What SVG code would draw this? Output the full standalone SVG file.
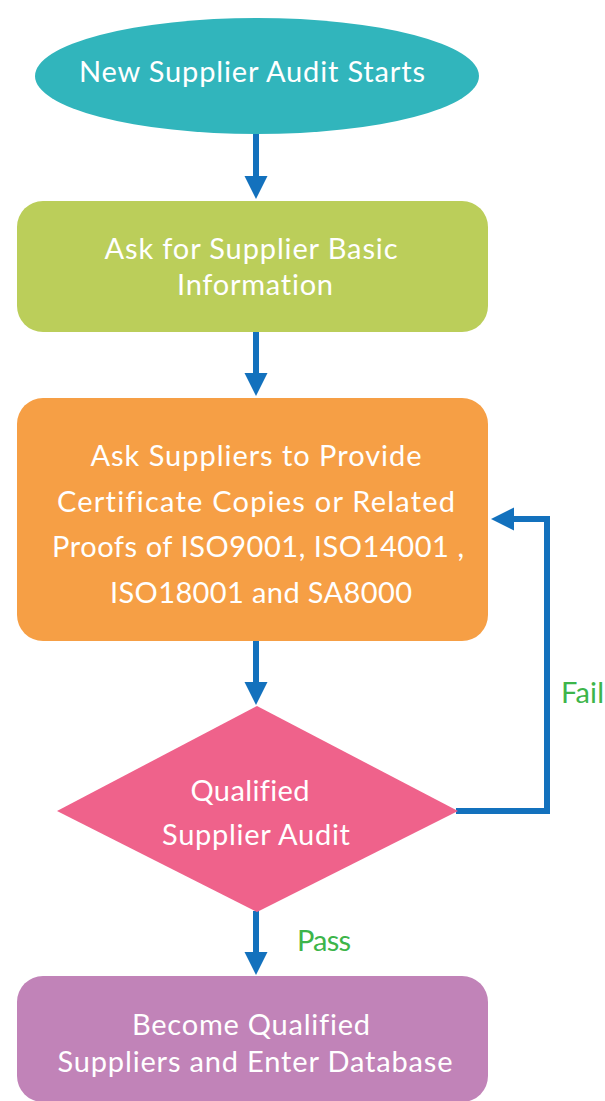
<svg xmlns="http://www.w3.org/2000/svg" width="605" height="1101" viewBox="0 0 605 1101">
  <style>
    .lbl { font-family: Lato, "Open Sans", "Liberation Sans", sans-serif; font-size: 29px; fill: #ffffff; text-anchor: middle; font-variant-ligatures: none; }
    .edge { font-family: Lato, "Open Sans", "Liberation Sans", sans-serif; font-size: 29px; fill: #3DB54A; }
    .conn { fill: none; stroke: #1371BD; stroke-width: 6; stroke-linejoin: miter; }
  </style>
  <defs>
    <marker id="arrow" markerUnits="userSpaceOnUse" markerWidth="24" markerHeight="24" viewBox="0 -12 24 24" refX="1" refY="0" orient="auto">
      <path d="M0,-11.5 L23,0 L0,11.5 Z" fill="#1371BD"/>
    </marker>
  </defs>
  <rect width="605" height="1101" fill="#ffffff"/>

  <g id="connectors">
    <line class="conn" x1="256" y1="134" x2="256" y2="177" marker-end="url(#arrow)"/>
    <line class="conn" x1="256" y1="332" x2="256" y2="374" marker-end="url(#arrow)"/>
    <line class="conn" x1="256" y1="640" x2="256" y2="683" marker-end="url(#arrow)"/>
    <line class="conn" x1="256" y1="911" x2="256" y2="953" marker-end="url(#arrow)"/>
    <polyline class="conn" points="456,811 547,811 547,519 513,519" marker-end="url(#arrow)"/>
    <text class="edge" x="561" y="703" textLength="43">Fail</text>
    <text class="edge" x="297" y="951" textLength="54">Pass</text>
  </g>

  <g id="start">
    <ellipse cx="257" cy="76" rx="222" ry="58" fill="#31B5BC"/>
    <text class="lbl" x="252" y="82" textLength="346">New Supplier Audit Starts</text>
  </g>

  <g id="basic-info">
    <rect x="17" y="201" width="471" height="131" rx="26" fill="#BBCE5A"/>
    <text class="lbl" x="251" y="259" textLength="293">Ask for Supplier Basic</text>
    <text class="lbl" x="255" y="295" textLength="156">Information</text>
  </g>

  <g id="certificates">
    <rect x="17" y="398" width="471" height="243" rx="26" fill="#F69F45"/>
    <text class="lbl" x="256" y="466" textLength="331">Ask Suppliers to Provide</text>
    <text class="lbl" x="256" y="512" textLength="398">Certificate Copies or Related</text>
    <text class="lbl" x="258" y="557" textLength="412">Proofs of ISO9001, ISO14001 ,</text>
    <text class="lbl" x="261" y="603" textLength="302">ISO18001 and SA8000</text>
  </g>

  <g id="audit">
    <polygon points="257,706 458,811 257,912 57,811" fill="#EF628B"/>
    <text class="lbl" x="250" y="801" textLength="119">Qualified</text>
    <text class="lbl" x="256" y="845" textLength="188">Supplier Audit</text>
  </g>

  <g id="database">
    <rect x="17" y="976" width="471" height="126" rx="26" fill="#C183B8"/>
    <text class="lbl" x="251" y="1035" textLength="238">Become Qualified</text>
    <text class="lbl" x="255" y="1072" textLength="395">Suppliers and Enter Database</text>
  </g>
</svg>
